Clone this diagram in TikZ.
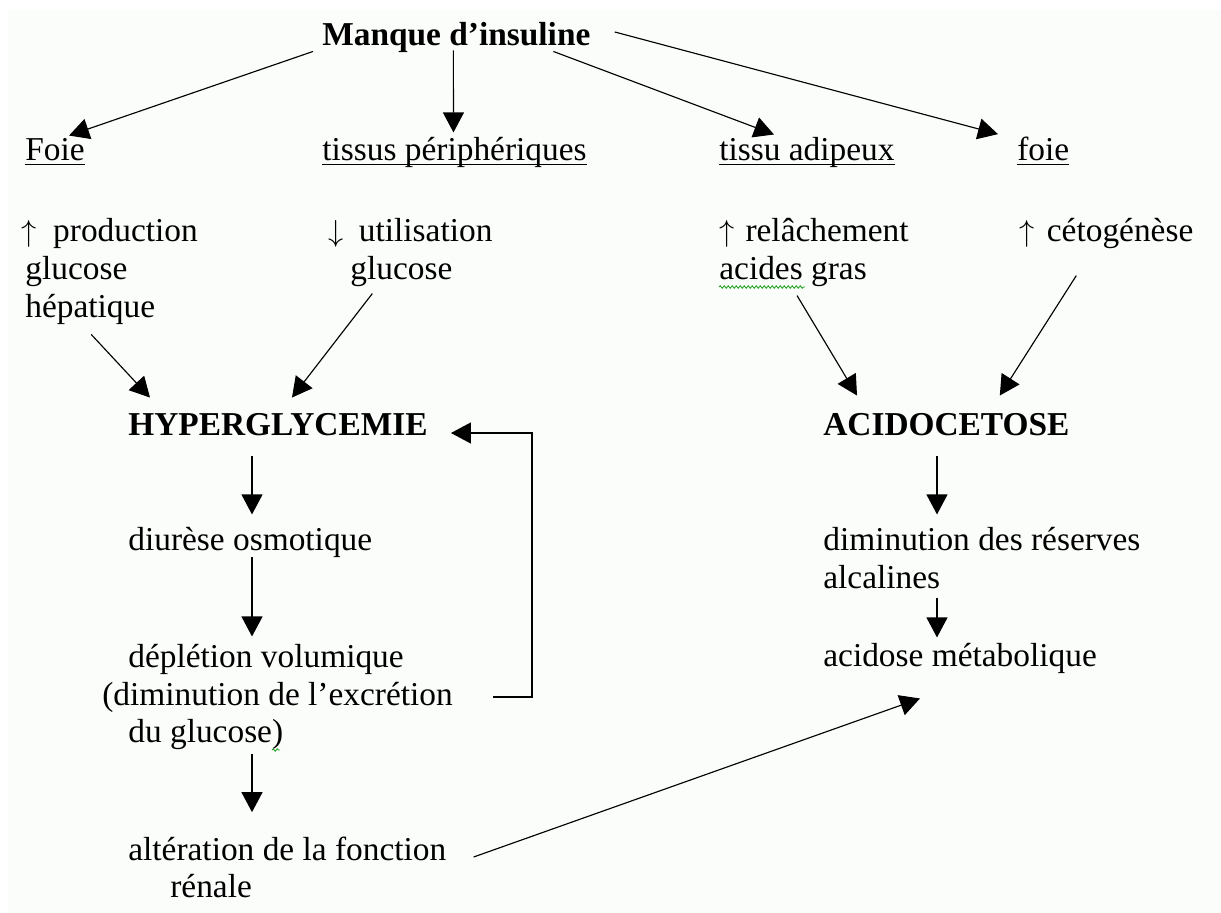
\documentclass[tikz,border=0pt]{standalone}
\usepackage{fontspec}
\setmainfont{Liberation Serif}
\usetikzlibrary{arrows.meta,decorations.pathmorphing}
\definecolor{fond}{RGB}{251,253,251}
\definecolor{wordgreen}{RGB}{40,165,40}
\newcommand{\taille}{\fontsize{19}{21.6}\selectfont}
\newcommand{\souligne}[1]{\setbox0\hbox{#1}\rlap{\rule[-0.16em]{\wd0}{0.045em}}\box0}
\tikzstyle{etiquette}=[anchor=base west,inner sep=0pt,font=\taille]
\tikzstyle{titre}=[etiquette,font=\taille\bfseries]
\tikzstyle{fleche}=[line width=0.65pt,-{Triangle[length=0.4cm,width=0.42cm]}]
\tikzstyle{vague}=[draw=wordgreen,line width=0.5pt,decorate,decoration={snake,amplitude=0.025cm,segment length=0.08cm}]

\begin{document}
\begin{tikzpicture}[x=0.02cm,y=-0.02cm]
  \useasboundingbox (0,0) rectangle (1221,913);
  \fill[white] (0,0) rectangle (1221,913);
  \fill[fond] (8,10) rectangle (1221,913);

  \node[titre] (manque) at (322,45) {Manque d’insuline};
  \node[etiquette] (foieA) at (25,160) {\souligne{Foie}};
  \node[etiquette] (tissus) at (322,160) {\souligne{tissus périphériques}};
  \node[etiquette] (adipeux) at (719,160) {\souligne{tissu adipeux}};
  \node[etiquette] (foieB) at (1017,160) {\souligne{foie}};

  \node[etiquette] (prod) at (21,241) {$\uparrow$\hspace{0.5em}production};
  \node[etiquette] (prodB) at (25,279) {glucose};
  \node[etiquette] (prodC) at (25,317) {hépatique};
  \node[etiquette] (util) at (328,241) {$\downarrow$\hspace{0.46em}utilisation};
  \node[etiquette] (utilB) at (350,279) {glucose};
  \node[etiquette] (relach) at (719,241) {$\uparrow$\hspace{0.33em}relâchement};
  \node[etiquette] (relachB) at (719,279) {acides gras};
  \node[etiquette] (ceto) at (1019,241) {$\uparrow$\hspace{0.37em}cétogénèse};

  \node[titre] (hyper) at (128,435) {HYPERGLYCEMIE};
  \node[etiquette] (diurese) at (128,550) {diurèse osmotique};
  \node[etiquette] (depl) at (128,667) {déplétion volumique};
  \node[etiquette] (deplB) at (102,705) {(diminution de l’excrétion};
  \node[etiquette] (deplC) at (128,742) {du glucose)};
  \node[etiquette] (alter) at (128,860) {altération de la fonction};
  \node[etiquette] (alterB) at (170,897) {rénale};

  \node[titre] (acido) at (823,435) {ACIDOCETOSE};
  \node[etiquette] (dimin) at (823,550) {diminution des réserves};
  \node[etiquette] (diminB) at (823,588) {alcalines};
  \node[etiquette] (acidose) at (823,666) {acidose métabolique};

  \draw[fleche] ([shift={(-9,-1)}]manque.south west) -- ([shift={(14,-2)}]foieA.north);
  \draw[fleche] ([shift={(-3,-2)}]manque.south) -- ([shift={(-1,-4)}]tissus.north);
  \draw[fleche] ([shift={(97,-1)}]manque.south) -- ([shift={(55,-2)}]adipeux.north west);
  \draw[fleche] ([shift={(24,-5)}]manque.east) -- ([shift={(-19,-2)}]foieB.north west);

  \draw[fleche] ([shift={(1,10)}]prodC.south) -- ([shift={(22,-15)}]hyper.north west);
  \draw[fleche] ([shift={(-29,7)}]utilB.south) -- ([shift={(14,-15)}]hyper.north);
  \draw[fleche] ([shift={(4,9)}]relachB.south) -- ([shift={(34,-17)}]acido.north west);
  \draw[fleche] ([shift={(-30,27)}]ceto.south) -- ([shift={(-70,-17)}]acido.north east);

  \draw[fleche] ([shift={(124,20)}]hyper.south west) -- ([shift={(124,-12)}]diurese.north west);
  \draw[fleche] ([shift={(124,0)}]diurese.south west) -- ([shift={(124,-7)}]depl.north west);
  \draw[fleche] ([shift={(124,4)}]deplC.south west) -- ([shift={(124,-24)}]alter.north west);
  \draw[fleche] ([shift={(40,0)}]deplB.east) -| ([shift={(104,-2)}]hyper.base east) -- ([shift={(23,-2)}]hyper.base east);

  \draw[fleche] ([shift={(114,20)}]acido.south west) -- ([shift={(114,-12)}]dimin.north west);
  \draw[fleche] ([shift={(114,9)}]diminB.south west) -- ([shift={(114,-5)}]acidose.north west);
  \draw[fleche] ([shift={(27,-3)}]alter.base east) -- ([shift={(97,25)}]acidose.south west);

  \draw[vague] ([shift={(0,8)}]relachB.base west) -- ([shift={(86,8)}]relachB.base west);
  \draw[vague] ([shift={(144,8)}]deplC.base west) -- ([shift={(152,8)}]deplC.base west);
\end{tikzpicture}
\end{document}
